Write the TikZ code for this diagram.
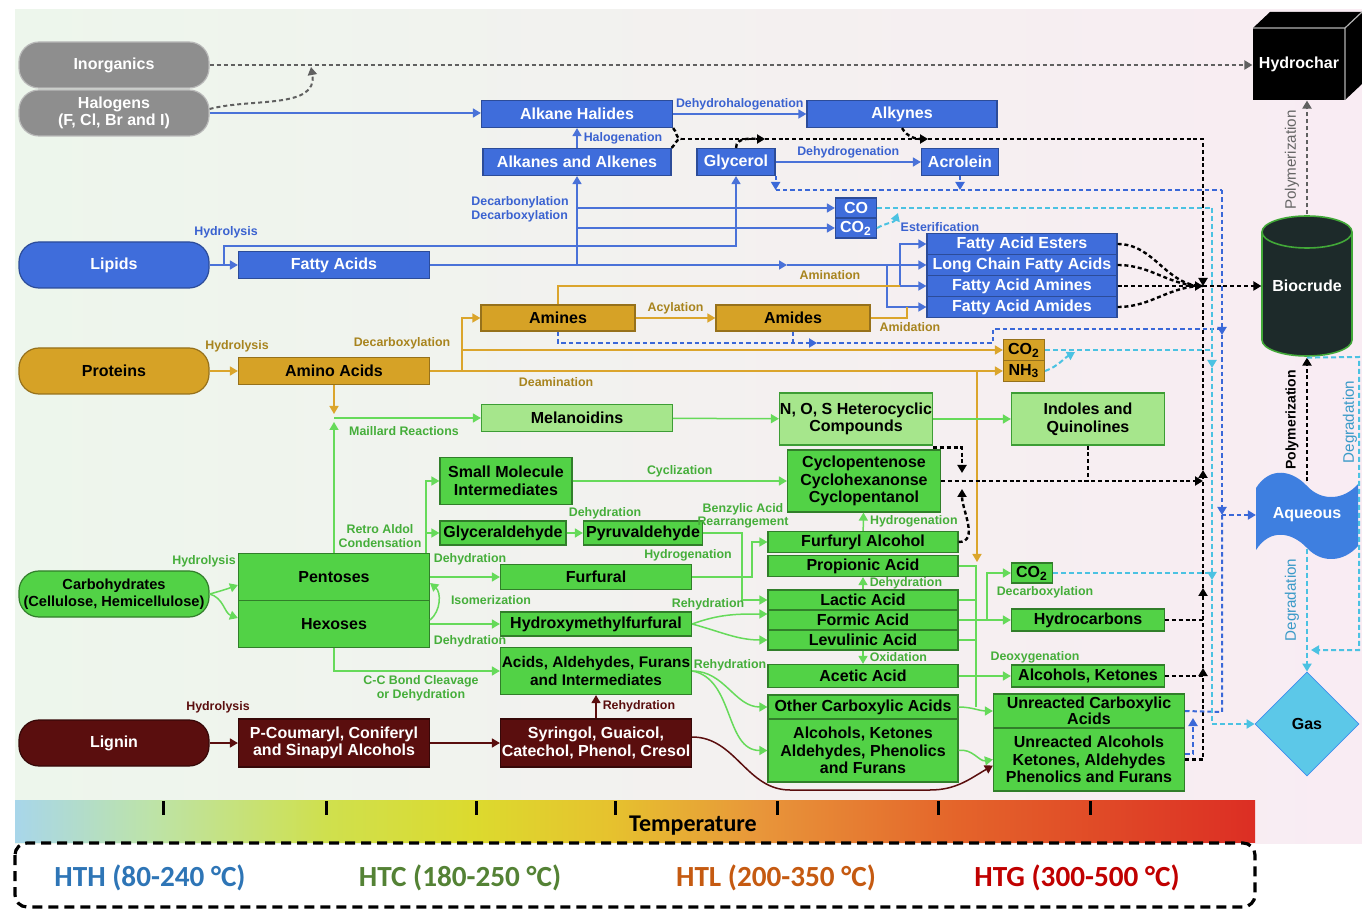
\documentclass[tikz,border=0pt]{standalone}
\usepackage{fontspec}
\setmainfont{Liberation Sans}
\newfontfamily\calibfont{Carlito}
\usetikzlibrary{arrows.meta,shapes.geometric}

\definecolor{bgleft}{HTML}{EDF6EC}
\definecolor{bgright}{HTML}{F9ECF3}
\definecolor{lipblue}{HTML}{3F6DDB}
\definecolor{lipline}{HTML}{4A72D8}
\definecolor{liplbl}{HTML}{3A62D0}
\definecolor{protgold}{HTML}{D6A226}
\definecolor{protline}{HTML}{DBA52C}
\definecolor{protlbl}{HTML}{A8841E}
\definecolor{carblight}{HTML}{A6E68C}
\definecolor{carbgreen}{HTML}{52D246}
\definecolor{carbline}{HTML}{66DA5A}
\definecolor{carblbl}{HTML}{45AE3A}
\definecolor{lignred}{HTML}{5A0E0E}
\definecolor{inorggray}{HTML}{8E8E8E}
\definecolor{aqblue}{HTML}{3E7FE0}
\definecolor{gascyan}{HTML}{5CC8E8}
\definecolor{cyandash}{HTML}{4BC2E2}
\definecolor{bluedash}{HTML}{3A68D8}
\definecolor{degrlbl}{HTML}{3A9AC8}
\definecolor{crudeblack}{HTML}{1D2A2A}
\definecolor{hthblue}{HTML}{2E75B6}
\definecolor{htcgreen}{HTML}{548235}
\definecolor{htlorange}{HTML}{C55A11}
\definecolor{htgred}{HTML}{C00000}
\definecolor{tempA}{HTML}{A8D6EA}
\definecolor{tempB}{HTML}{BDE3A8}
\definecolor{tempC}{HTML}{CFE04E}
\definecolor{tempD}{HTML}{DCDA2E}
\definecolor{tempE}{HTML}{E6C22E}
\definecolor{tempF}{HTML}{E8963A}
\definecolor{tempG}{HTML}{E4642A}
\definecolor{tempH}{HTML}{DC2E24}
% tikz maps the path onto the middle 50bp of the shading
\pgfdeclarehorizontalshading{tempbar}{100bp}{color(0bp)=(tempA); color(25bp)=(tempA); color(30.5bp)=(tempB); color(37.5bp)=(tempC); color(43.5bp)=(tempD); color(49bp)=(tempE); color(55bp)=(tempF); color(63bp)=(tempG); color(75bp)=(tempH); color(100bp)=(tempH)}

\begin{document}
\begin{tikzpicture}[x=0.5pt, y=-0.5pt,
  box/.style={draw, inner sep=0pt, align=center, line width=0.6pt,
    font=\bfseries\fontsize{8}{8.8}\selectfont},
  sz/.style 2 args={minimum width=#1*0.5pt, minimum height=#2*0.5pt},
  oval/.style={rounded corners=10pt, sz={190}{46}},
  graybox/.style={box, fill=inorggray, draw=gray!55, text=white},
  bluebox/.style={box, fill=lipblue, draw=lipblue!70!black, text=white},
  goldbox/.style={box, fill=protgold, draw=protgold!70!black},
  lgbox/.style={box, fill=carblight, draw=carbgreen!75!black},
  gbox/.style={box, fill=carbgreen, draw=carbgreen!60!black},
  mbox/.style={box, fill=lignred, draw=lignred!60!black, text=white},
  lbl/.style={inner sep=0pt, align=center, font=\bfseries\fontsize{6.2}{6.8}\selectfont},
  vlbl/.style={inner sep=0pt, rotate=90, font=\fontsize{7.6}{8}\selectfont},
  arr/.style={-{Triangle[length=4pt,width=4.5pt]}},
  bline/.style={lipline, line width=0.75pt},
  gline/.style={protline, line width=0.75pt},
  cline/.style={carbline, line width=0.75pt},
  mline/.style={lignred, line width=0.75pt},
  kdash/.style={black, line width=1.2pt, dash pattern=on 2pt off 1.4pt},
  bdash/.style={bluedash, line width=1pt, dash pattern=on 2.2pt off 1.5pt},
  cdash/.style={cyandash, line width=1pt, dash pattern=on 2.5pt off 1.5pt},
  ydash/.style={gray!75!black, line width=1pt, dash pattern=on 2pt off 1.5pt}]

  % background and temperature scale
  \useasboundingbox (0,0) rectangle (1362,909);
  \shade[left color=bgleft, right color=bgright] (15,10) rectangle (1362,843);
  \shade[shading=tempbar] (15,800) rectangle (1255,842);
  \foreach \t in {163,326,476,615,777,938,1090}
    \draw[line width=1.5pt] (\t,801) -- (\t,815);
  \node[font=\calibfont\bfseries\fontsize{12}{12}\selectfont] (temp) at (693,826) {Temperature};
  \draw[line width=1.6pt, dash pattern=on 5pt off 3pt, rounded corners=6pt] (15,843) rectangle (1255,907);
  \node[font=\calibfont\bfseries\fontsize{14.6}{15}\selectfont, text=hthblue] (hth) at (150,878) {HTH (80-240 °C)};
  \node[font=\calibfont\bfseries\fontsize{14.6}{15}\selectfont, text=htcgreen] (htc) at (460,878) {HTC (180-250 °C)};
  \node[font=\calibfont\bfseries\fontsize{14.6}{15}\selectfont, text=htlorange] (htl) at (776,878) {HTL (200-350 °C)};
  \node[font=\calibfont\bfseries\fontsize{14.6}{15}\selectfont, text=htgred] (htg) at (1077,878) {HTG (300-500 °C)};

  % products
  \fill[black] (1253,28) -- (1270,12) -- (1362,12) -- (1362,84) -- (1345,100) -- (1253,100) -- cycle;
  \draw[gray!60, line width=0.6pt] (1253,28) -- (1345,28) -- (1362,12) (1345,28) -- (1345,100);
  \node[box, draw=none, text=white, sz={92}{72}] (hydrochar) at (1299,64) {Hydrochar};
  \fill[crudeblack] (1262,232) -- (1262,340) arc[start angle=180, end angle=360, x radius=22.5pt, y radius=8pt]
    -- (1352,232) arc[start angle=0, end angle=180, x radius=22.5pt, y radius=8pt] -- cycle;
  \draw[carbgreen!80!black, line width=0.8pt] (1262,232) -- (1262,340) arc[start angle=180, end angle=360, x radius=22.5pt, y radius=8pt]
    -- (1352,232) (1307,232) ellipse[x radius=22.5pt, y radius=8pt];
  \node[box, draw=none, text=white, sz={90}{142}] (biocrude) at (1307,286) {Biocrude};
  \fill[aqblue] (1256,488) .. controls (1270,466) and (1292,470) .. (1307,486)
    .. controls (1322,502) and (1344,500) .. (1358,484) -- (1358,546)
    .. controls (1344,562) and (1322,564) .. (1307,548)
    .. controls (1292,532) and (1270,528) .. (1256,550) -- cycle;
  \node[box, draw=none, text=white, sz={101}{66}] (aqueous) at (1307,515) {Aqueous};
  \node[diamond, fill=gascyan, draw=gascyan!70!blue, inner sep=0pt, minimum width=52pt, minimum height=52pt,
    font=\bfseries\fontsize{8}{8.8}\selectfont] (gas) at (1307,724) {Gas};

  % feedstocks
  \node[graybox, oval] (inorg) at (114,65) {Inorganics};
  \node[graybox, oval] (halog) at (114,113) {Halogens\\(F, Cl, Br and I)};
  \node[bluebox, oval] (lipids) at (114,265) {Lipids};
  \node[goldbox, oval] (proteins) at (114,371) {Proteins};
  \node[gbox, oval, font=\bfseries\fontsize{7.3}{8.6}\selectfont] (carbs) at (114,594) {Carbohydrates\\(Cellulose, Hemicellulose)};
  \node[mbox, oval] (lignin) at (114,743) {Lignin};

  % lipid pathway
  \node[bluebox, sz={191}{27}] (alkhal) at (577,114) {Alkane Halides};
  \node[bluebox, sz={188}{27}] (alkanes) at (577,162) {Alkanes and Alkenes};
  \node[bluebox, sz={78}{27}] (glycerol) at (736,162) {Glycerol};
  \node[bluebox, sz={190}{27}] (alkynes) at (902,114) {Alkynes};
  \node[bluebox, sz={77}{27}] (acrolein) at (960,162) {Acrolein};
  \node[bluebox, sz={41}{20}] (co) at (856,208) {CO};
  \node[bluebox, sz={41}{20}] (coo) at (856,228) {CO\textsubscript{2}};
  \node[bluebox, sz={191}{27}] (fatty) at (334,265) {Fatty Acids};
  \node[bluebox, sz={190}{21}] (faest) at (1022,244) {Fatty Acid Esters};
  \node[bluebox, sz={190}{21}] (falong) at (1022,265) {Long Chain Fatty Acids};
  \node[bluebox, sz={190}{21}] (faamine) at (1022,286) {Fatty Acid Amines};
  \node[bluebox, sz={190}{21}] (faamide) at (1022,307) {Fatty Acid Amides};

  % protein pathway
  \node[goldbox, sz={154}{26}] (amines) at (558,318) {Amines};
  \node[goldbox, sz={154}{26}] (amides) at (793,318) {Amides};
  \node[goldbox, sz={191}{27}] (amino) at (334,371) {Amino Acids};
  \node[goldbox, sz={41}{21}] (pco) at (1024,350) {CO\textsubscript{2}};
  \node[goldbox, sz={41}{21}] (pnh) at (1024,371) {NH\textsubscript{3}};

  % lignin pathway, its long curve passing under the green boxes
  \node[mbox, sz={191}{48}] (coum) at (334,743) {P-Coumaryl, Coniferyl\\and Sinapyl Alcohols};
  \node[mbox, sz={191}{48}] (syr) at (596,743) {Syringol, Guaicol,\\Catechol, Phenol, Cresol};
  \coordinate (ligdip) at (790,790);
  \coordinate (ligrun) at (930,790);
  \draw[mline] ([yshift=3pt]syr.east) to[out=0, in=180] (ligdip) -- (ligrun);

  % carbohydrate pathway
  \node[lgbox, sz={191}{27}] (melan) at (577,418) {Melanoidins};
  \node[lgbox, sz={153}{52}] (nos) at (856,419) {N, O, S Heterocyclic\\Compounds};
  \node[lgbox, sz={153}{52}] (indoles) at (1088,419) {Indoles and\\Quinolines};
  \node[gbox, sz={132}{47}] (smi) at (506,481) {Small Molecule\\Intermediates};
  \node[gbox, sz={153}{62}] (cyclo) at (864,481) {Cyclopentenose\\Cyclohexanonse\\Cyclopentanol};
  \node[gbox, sz={126}{24}] (glyald) at (503,533) {Glyceraldehyde};
  \node[gbox, sz={119}{24}] (pyru) at (643,533) {Pyruvaldehyde};
  \node[gbox, sz={191}{47}] (pent) at (334,577) {Pentoses};
  \node[gbox, sz={191}{47}] (hex) at (334,624) {Hexoses};
  \node[gbox, sz={191}{25}] (furf) at (596,577) {Furfural};
  \node[gbox, sz={191}{24}] (hmf) at (596,624) {Hydroxymethylfurfural};
  \node[gbox, sz={191}{47}, font=\bfseries\fontsize{7.7}{8.8}\selectfont] (aafi) at (596,671) {Acids, Aldehydes, Furans\\and Intermediates};
  \node[gbox, sz={190}{21}] (furol) at (863,542) {Furfuryl Alcohol};
  \node[gbox, sz={190}{21}] (propi) at (863,566) {Propionic Acid};
  \node[gbox, sz={190}{20}] (lactic) at (863,600) {Lactic Acid};
  \node[gbox, sz={190}{20}] (formic) at (863,620) {Formic Acid};
  \node[gbox, sz={190}{20}] (levu) at (863,640) {Levulinic Acid};
  \node[gbox, sz={190}{23}] (acetic) at (863,676) {Acetic Acid};
  \node[gbox, sz={190}{24}] (othca) at (863,707) {Other Carboxylic Acids};
  \node[gbox, sz={190}{63}] (alket) at (863,750.5) {Alcohols, Ketones\\Aldehydes, Phenolics\\and Furans};
  \node[gbox, sz={41}{20}] (gco) at (1032,573) {CO\textsubscript{2}};
  \node[gbox, sz={153}{22}] (hydroc) at (1088,620) {Hydrocarbons};
  \node[gbox, sz={153}{22}] (alcket) at (1088,676) {Alcohols, Ketones};
  \node[gbox, sz={191}{34}, font=\bfseries\fontsize{8}{8.2}\selectfont] (unca) at (1089,711) {Unreacted Carboxylic\\Acids};
  \node[gbox, sz={191}{63}] (unalc) at (1089,759.5) {Unreacted Alcohols\\Ketones, Aldehydes\\Phenolics and Furans};

  % gray links
  \coordinate (hmerge) at (311,67);
  \draw[ydash, arr] (inorg.east) -- (hydrochar.west |- inorg.east);
  \draw[ydash, arr] ([yshift=2pt]halog.east) to[out=15, in=-80] (hmerge);
  \draw[ydash, arr] (biocrude.north) -- (biocrude.north |- hydrochar.south);
  \node[vlbl, gray!80!black] (polyA) at (1292,160) {Polymerization};

  % lipid links
  \coordinate (lipup) at (224,246);
  \coordinate (decarb) at (577,265);
  \coordinate (fatarr) at (787,265);
  \coordinate (amibus) at (887,265);
  \coordinate (esbus) at (900,265);
  \draw[bline, arr] (halog.east) -- (alkhal.west |- halog.east);
  \draw[bline, arr] (alkhal) -- node[lbl, liplbl, above=1.5pt] {Dehydrohalogenation} (alkynes);
  \draw[bline, arr] (alkanes.north) -- node[lbl, liplbl, right=3pt] {Halogenation} (alkhal.south);
  \draw[bline, arr] (glycerol) -- node[lbl, liplbl, above=1.5pt] {Dehydrogenation} (acrolein);
  \draw[bline, arr] (lipids) -- (fatty);
  \node[lbl, liplbl] (lhyd) at (226,232) {Hydrolysis};
  \draw[bline, arr] (lipids.east -| lipup) -- (lipup) -| (glycerol.south);
  \draw[bline, arr] (fatty.east) -- (fatarr);
  \draw[bline, arr] (fatarr) -- (falong.west);
  \draw[bline, arr] (decarb) -- (alkanes.south);
  \draw[bline, arr] (decarb |- co) -- (co);
  \draw[bline, arr] (decarb |- coo) -- (coo);
  \node[lbl, liplbl, align=left] (ldec) at (520,209) {Decarbonylation\\Decarboxylation};
  \draw[bline, arr] (esbus) |- (faest);
  \draw[bline, arr] (esbus) |- (faamine);
  \draw[bline, arr] (amibus) |- (faamide);
  \node[lbl, liplbl] (lest) at (940,227) {Esterification};

  % protein links
  \coordinate (aabus) at (462,371);
  \coordinate (amup) at (558,286);
  \coordinate (amidc) at (907,318);
  \coordinate (gdown) at (977,371);
  \coordinate (gdtip) at (977,562);
  \draw[gline, arr] (proteins) -- (amino);
  \node[lbl, protlbl] (phyd) at (237,346) {Hydrolysis};
  \draw[gline, arr] (amino) -- node[lbl, protlbl, below=3pt, pos=0.22] {Deamination} (pnh);
  \draw[gline, arr] (aabus) |- (amines);
  \draw[gline, arr] (aabus |- pco) -- (pco);
  \node[lbl, protlbl] (pdec) at (402,343) {Decarboxylation};
  \draw[gline, arr] (amines) -- node[lbl, protlbl, above=1.5pt] {Acylation} (amides);
  \draw[gline] (amines.north) -- (amup) -- (esbus |- amup);
  \node[lbl, protlbl] (pamin) at (830,275) {Amination};
  \draw[gline] (amides) -- (amidc) -- (amidc |- faamide);
  \node[lbl, protlbl] (pamid) at (910,327) {Amidation};
  \draw[gline, arr] (gdown) -- (gdtip);

  % Maillard and carbohydrate links
  \coordinate (maill) at (334,418);
  \coordinate (maillA) at (334,414);
  \coordinate (retro) at (426,553);
  \coordinate (hydrog) at (752,577);
  \coordinate (benz) at (742,533);
  \draw[gline, arr] (amino.south) -- (maillA);
  \draw[cline, arr] (pent.north) -- ([yshift=-2pt]maill);
  \draw[cline, arr] (maill) -- (melan);
  \node[lbl, carblbl] (cmail) at (404,431) {Maillard Reactions};
  \draw[cline, arr] (melan) -- (nos);
  \draw[cline, arr] (nos) -- (indoles);
  \draw[cline, arr] (carbs.east) to[out=15, in=200] ([yshift=-4pt]pent.west);
  \draw[cline, arr] (carbs.east) to[out=-15, in=160] ([yshift=3pt]hex.west);
  \node[lbl, carblbl] (chyd) at (204,561) {Hydrolysis};
  \draw[cline, arr] (retro) |- (smi);
  \draw[cline, arr] (retro) |- (glyald);
  \node[lbl, carblbl] (cretro) at (380,536) {Retro Aldol\\Condensation};
  \draw[cline, arr] (glyald) -- (pyru);
  \node[lbl, carblbl] (cdeh1) at (605,513) {Dehydration};
  \draw[cline, arr] (smi) -- node[lbl, carblbl, above=1.5pt] {Cyclization} (cyclo);
  \draw[cline, arr] (pent.east |- furf) -- (furf);
  \node[lbl, carblbl] (cdeh2) at (470,559) {Dehydration};
  \draw[cline, arr] (hex.east |- hmf) -- (hmf);
  \node[lbl, carblbl] (cdeh3) at (470,641) {Dehydration};
  \draw[cline, arr] ([yshift=2pt]hex.east) to[out=40, in=-40] ([yshift=-3pt]pent.east);
  \node[lbl, carblbl] (ciso) at (491,600) {Isomerization};
  \draw[cline, arr] (hex.south) |- (aafi);
  \node[lbl, carblbl] (ccc) at (421,688) {C-C Bond Cleavage\\or Dehydration};
  \draw[cline, arr] (furf) -- (hydrog) |- (furol);
  \node[lbl, carblbl] (chydg) at (688,555) {Hydrogenation};
  \draw[cline, arr] (pyru) -- (benz) |- (lactic);
  \node[lbl, carblbl] (cbenz) at (743,516) {Benzylic Acid\\Rearrangement};
  \draw[cline, arr] (hmf.east) to[out=20, in=180] ([yshift=3pt]formic.west);
  \draw[cline, arr] (hmf.east) to[out=-15, in=180] (levu.west);
  \node[lbl, carblbl] (creh1) at (708,604) {Rehydration};
  \draw[cline, arr] (furol) -- node[lbl, carblbl, right=3pt] {Hydrogenation} (cyclo);
  \draw[cline, arr] (lactic) -- node[lbl, carblbl, right=3pt] {Dehydration} (propi);
  \draw[cline, arr] (levu) -- node[lbl, carblbl, right=3pt] {Oxidation} (acetic);
  \draw[cline, arr] (aafi.east) to[out=0, in=180] (othca.west);
  \draw[cline, arr] (aafi.east) to[out=-10, in=180] (alket.west);
  \node[lbl, carblbl] (creh2) at (730,665) {Rehydration};

  % acid bus
  \coordinate (acbus) at (976,566);
  \coordinate (cobus) at (987,620);
  \draw[cline] (propi) -- (acbus) -- (acbus |- othca);
  \draw[cline] (lactic) -- (lactic -| acbus);
  \draw[cline] (levu) -- (levu -| acbus);
  \draw[cline, arr] (formic) -- (hydroc);
  \draw[cline, arr] (cobus) |- (gco);
  \node[lbl, carblbl] (cdecb) at (1045,592) {Decarboxylation};
  \draw[cline, arr] (acetic) -- (alcket);
  \node[lbl, carblbl] (cdeox) at (1035,657) {Deoxygenation};
  \draw[cline, arr] (othca.east) to[out=0, in=180] (unca.west);
  \draw[cline, arr] (alket.east) to[out=10, in=190] (unalc.west);

  % lignin links
  \draw[mline, arr] (lignin) -- (coum);
  \node[lbl, lignred] (mhyd) at (218,707) {Hydrolysis};
  \draw[mline, arr] (coum) -- (syr);
  \draw[mline, arr] (syr) -- node[lbl, lignred, right=3pt] {Rehydration} (aafi);
  \draw[mline, arr] (ligrun) to[out=0, in=210] ([yshift=-3pt]unalc.west);

  % black dashed links to biocrude
  \coordinate (kj1) at (681,139);
  \coordinate (kj2) at (765,139);
  \coordinate (kj3) at (928,139);
  \coordinate (kjun) at (1203,286);
  \coordinate (kj4) at (962,481);
  \coordinate (kj5) at (962,473);
  \coordinate (kj6) at (962,489);
  \coordinate (kup1) at (1203,668);
  \coordinate (kup2) at (1203,588);
  \coordinate (kup3) at (1203,470);
  \draw[kdash] (alkhal.south east) to[out=-40, in=180] (kj1);
  \draw[kdash] (alkanes.north east) to[out=40, in=180] (kj1);
  \draw[kdash, arr] (kj1) -- (kj2);
  \draw[kdash] (glycerol.north) to[out=90, in=180] (kj2);
  \draw[kdash, arr] (kj2) -| (kjun);
  \draw[kdash, arr] (alkynes.south) to[out=-60, in=180] (kj3);
  \draw[kdash] (faest.east) to[out=0, in=180] (kjun);
  \draw[kdash] (falong.east) to[out=0, in=180] (kjun);
  \draw[kdash, arr] (faamine.east) -- (kjun);
  \draw[kdash] (faamide.east) to[out=0, in=180] (kjun);
  \draw[kdash, arr] (kjun) -- (biocrude.west);
  \draw[kdash] (cyclo.east) -- (kj4);
  \draw[kdash, arr] (kj4) -- (indoles.south |- kj4) -- (kj4 -| kjun);
  \draw[kdash] (indoles.south) -- (indoles.south |- kj4);
  \draw[kdash, arr] ([yshift=-1pt]nos.south east) -| (kj5);
  \draw[kdash, arr] (furol.east) to[out=0, in=-90] (kj6);
  \draw[kdash, arr] (unalc.east) -| (kup1);
  \draw[kdash] (alcket) -- (alcket -| kjun);
  \draw[kdash] (hydroc) -- (hydroc -| kjun);
  \draw[kdash, arr] (kup1) -- (kup2);
  \draw[kdash, arr] (kup2) -- (kup3);
  \draw[kdash] (kup3) -- (kjun);
  \draw[kdash, arr] (aqueous.north) -- (biocrude.south);
  \node[vlbl, font=\bfseries\fontsize{7}{8}\selectfont] (polyB) at (1292,420) {Polymerization};

  % blue dashed links to aqueous
  \coordinate (bq1) at (1222,190);
  \coordinate (bqa) at (1222,335);
  \coordinate (bq2) at (1222,515);
  \coordinate (bq3) at (993,343);
  \coordinate (bqm) at (817,343);
  \coordinate (bq4) at (1222,329);
  \coordinate (bq5) at (1222,712);
  \coordinate (bq6) at (1193,718);
  \draw[bdash, arr] (glycerol.south east) -- (glycerol.south east |- bq1);
  \draw[bdash] (glycerol.south east |- bq1) -- (bq1);
  \draw[bdash, arr] (acrolein.south) -- (acrolein.south |- bq1);
  \draw[bdash, arr] (bq1) -- (bqa);
  \draw[bdash, arr] (bqa) -- (bq2);
  \draw[bdash, arr] (bq2) -- (aqueous.west);
  \draw[bdash, arr] (amines.south) |- (bqm);
  \draw[bdash] (bqm) -- (bq3) |- (bq4);
  \draw[bdash] (amides.south) -- (amides.south |- bq3);
  \draw[bdash] (unca.east) -- (bq5) -- (bq2);
  \draw[bdash, arr] ([yshift=3pt]unalc.east) -| (bq6);

  % cyan dashed links to gas
  \coordinate (cq0) at (898,213);
  \coordinate (cq1) at (1212,208);
  \coordinate (cqa) at (1212,368);
  \coordinate (cqb) at (1212,580);
  \coordinate (cq2) at (1212,724);
  \coordinate (cq3) at (1075,352);
  \coordinate (cq4) at (1359,357);
  \coordinate (cq5) at (1359,650);
  \draw[cdash] (co.east) -- (cq1);
  \draw[cdash, arr] (coo.east) to[out=30, in=-110] (cq0);
  \draw[cdash, arr] (cq1) -- (cqa);
  \draw[cdash, arr] (cqa) -- (cqb);
  \draw[cdash] (cqb) -- (cq2);
  \draw[cdash, arr] (cq2) -- (gas.west);
  \draw[cdash] (pco.east) -- (pco.east -| cq1);
  \draw[cdash, arr] (pnh.east) to[out=20, in=-150] (cq3);
  \draw[cdash] (gco.east) -- (gco.east -| cq1);
  \draw[cdash, arr] (aqueous.south) -- (gas.north);
  \node[vlbl, degrlbl] (degrA) at (1292,600) {Degradation};
  \draw[cdash, arr] (biocrude.south) -- (cq4) -- (cq5) -- ([xshift=2pt]aqueous.south |- cq5);
  \node[vlbl, degrlbl] (degrB) at (1350,422) {Degradation};
\end{tikzpicture}
\end{document}
